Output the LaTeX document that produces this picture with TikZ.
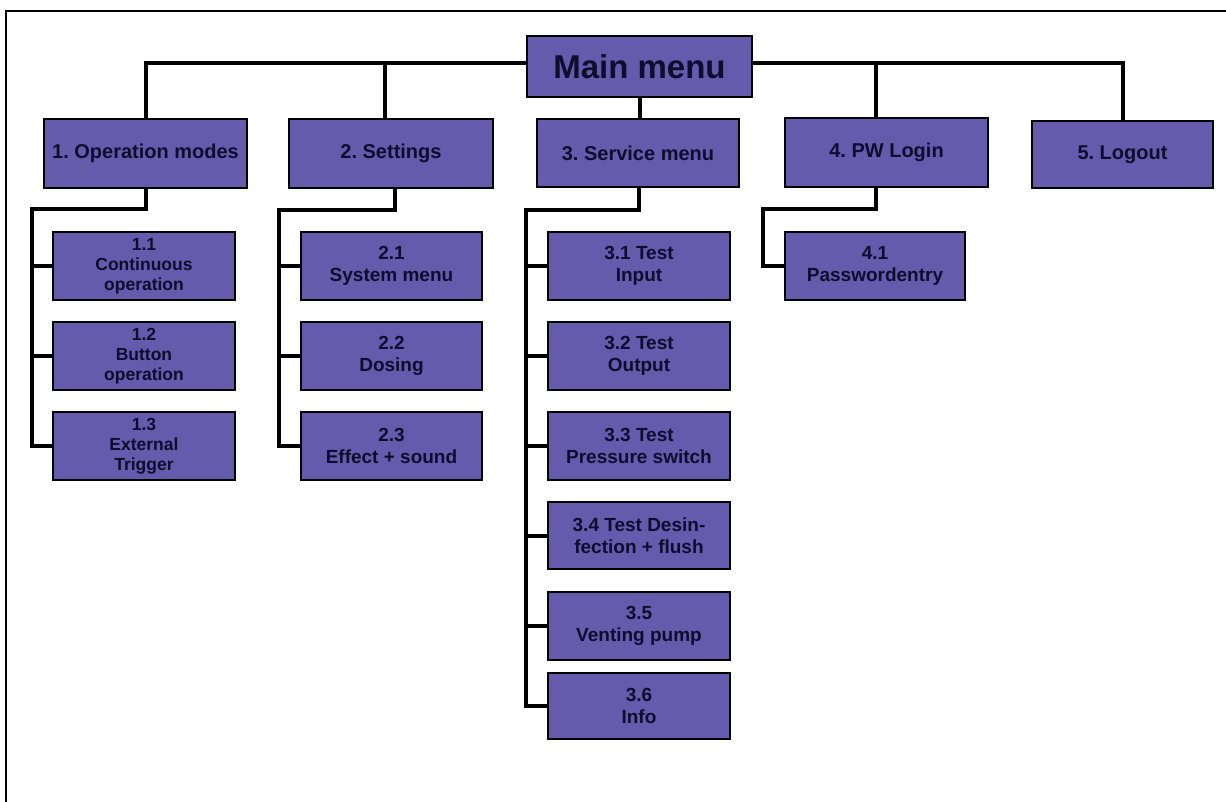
\documentclass[tikz,border=0pt]{standalone}
\usepackage{fontspec}
\setmainfont{Liberation Sans}
\definecolor{boxfill}{RGB}{101,90,172}
\definecolor{boxtext}{RGB}{16,12,46}
\frenchspacing
\begin{document}
\begin{tikzpicture}[x=1pt,y=-1pt,
  box/.style={draw=black, line width=2.5pt, fill=boxfill, text=boxtext,
    font=\bfseries\fontsize{19}{22}\selectfont, align=center, inner sep=2pt},
  topbox/.style={box, font=\bfseries\fontsize{20}{24}\selectfont},
  mainbox/.style={box, font=\bfseries\fontsize{33}{38}\selectfont},
  smallbox/.style={box, font=\bfseries\fontsize{17.5}{20}\selectfont},
  conn/.style={draw=black, line width=4pt, line join=miter},
  frame/.style={draw=black, line width=1.3pt}]
\useasboundingbox (0,0) rectangle (1226,802);
\draw[frame] (1226,11) -| (6,802);

% nodes
\node[mainbox, minimum width=225pt, minimum height=61pt] (main) at (639.5,66.5) {Main menu};
\node[topbox, minimum width=203pt, minimum height=69pt] (op) at (145.5,153.5) {1. Operation modes};
\node[topbox, minimum width=204pt, minimum height=69pt] (set) at (391,153.5) {2. Settings};
\node[topbox, minimum width=202pt, minimum height=68pt] (svc) at (638,153) {3. Service menu};
\node[topbox, minimum width=203pt, minimum height=69pt] (pw) at (886.5,152.5) {4. PW Login};
\node[topbox, minimum width=181pt, minimum height=67pt] (lo) at (1122.5,154.5) {5. Logout};

\node[smallbox, minimum width=182pt, minimum height=68pt] (o1) at (144,266) {1.1\\Continuous\\operation};
\node[smallbox, minimum width=182pt, minimum height=68pt] (o2) at (144,356) {1.2\\Button\\operation};
\node[smallbox, minimum width=182pt, minimum height=68pt] (o3) at (144,446) {1.3\\External\\Trigger};

\node[box, minimum width=181pt, minimum height=68pt] (s1) at (391.5,266) {2.1\\System menu};
\node[box, minimum width=181pt, minimum height=68pt] (s2) at (391.5,356) {2.2\\Dosing};
\node[box, minimum width=181pt, minimum height=68pt] (s3) at (391.5,446) {2.3\\Effect + sound};

\node[box, minimum width=182pt, minimum height=68pt] (v1) at (639,266) {3.1 Test\\Input};
\node[box, minimum width=182pt, minimum height=68pt] (v2) at (639,356) {3.2 Test\\Output};
\node[box, minimum width=182pt, minimum height=68pt] (v3) at (639,446) {3.3 Test\\Pressure switch};
\node[box, minimum width=182pt, minimum height=67pt] (v4) at (639,535.5) {3.4 Test Desin-\\fection + flush};
\node[box, minimum width=182pt, minimum height=68pt] (v5) at (639,626) {3.5\\Venting pump};
\node[box, minimum width=182pt, minimum height=66pt] (v6) at (639,706) {3.6\\Info};

\node[box, minimum width=180pt, minimum height=68pt] (p1) at (875,266) {4.1\\Passwordentry};

% bus coordinates
\coordinate (opbus) at (32,209);
\coordinate (setbus) at (279,210);
\coordinate (svcbus) at (526,210);
\coordinate (pwbus) at (763,209);

% top level connectors
\draw[conn] (op.north) |- ([yshift=3.5pt]main.west);
\draw[conn] ([xshift=-6pt]set.north) |- ([yshift=3.5pt]main.west);
\draw[conn] (main.south) -- (main.south |- svc.north);
\draw[conn] ([xshift=-10.5pt]pw.north) |- ([yshift=3.5pt]main.east);
\draw[conn] (lo.north) |- ([yshift=3.5pt]main.east);

% operation modes
\draw[conn] (o3.west) -| (opbus) -| (op.south);
\draw[conn] (o1.west) -- (o1.west -| opbus);
\draw[conn] (o2.west) -- (o2.west -| opbus);

% settings
\draw[conn] (s3.west) -| (setbus) -| ([xshift=3.5pt]set.south);
\draw[conn] (s1.west) -- (s1.west -| setbus);
\draw[conn] (s2.west) -- (s2.west -| setbus);

% service menu
\draw[conn] (v6.west) -| (svcbus) -| ([xshift=1pt]svc.south);
\draw[conn] (v1.west) -- (v1.west -| svcbus);
\draw[conn] (v2.west) -- (v2.west -| svcbus);
\draw[conn] (v3.west) -- (v3.west -| svcbus);
\draw[conn] (v4.west) -- (v4.west -| svcbus);
\draw[conn] (v5.west) -- (v5.west -| svcbus);

% PW login
\draw[conn] (p1.west) -| (pwbus) -| ([xshift=-10.5pt]pw.south);
\end{tikzpicture}
\end{document}
